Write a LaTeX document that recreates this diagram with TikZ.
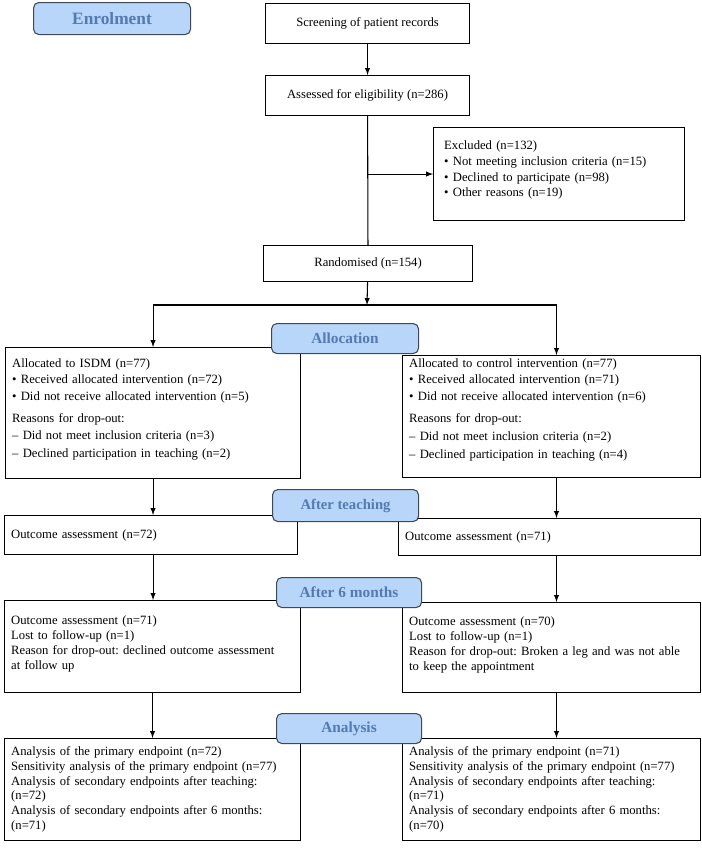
\documentclass[tikz,border=0pt]{standalone}
\usepackage{fontspec}
\setmainfont{Liberation Serif}
\usepackage{xcolor}
\usetikzlibrary{positioning}
\definecolor{stagefill}{RGB}{184,214,250}
\definecolor{stagetext}{RGB}{84,122,178}
\definecolor{stagedraw}{RGB}{64,72,84}
\frenchspacing

\tikzset{
    box/.style={draw, rectangle, anchor=north west, line width=0.8pt, inner xsep=5pt, inner ysep=2pt,
        align=left, font=\fontsize{9.5}{11.25}\selectfont},
    cbox/.style={box, align=center},
    stage/.style={draw=stagedraw, fill=stagefill, rounded corners=4pt, anchor=north west, line width=0.8pt,
        text=stagetext, font=\fontsize{11.5}{14}\selectfont\bfseries},
    link/.style={line width=0.8pt, ->, >=latex}
}

\begin{document}
\begin{tikzpicture}[x=0.75pt,y=-0.75pt]
    \useasboundingbox (0,0) rectangle (702,850);

    % Enrolment
    \node[cbox, minimum width=153pt, minimum height=30pt] (screen) at (265,3) {Screening of patient records};
    \node[cbox, minimum width=153pt, minimum height=30pt] (assess) at (265,75) {Assessed for eligibility (n=286)};
    \node[box, inner xsep=8pt, text width=172.25pt, minimum height=69.75pt,
        font=\fontsize{9.5}{11.8}\selectfont] (excl) at (433,127)
        {Excluded (n=132)\\
         \textbullet\ Not meeting inclusion criteria (n=15)\\
         \textbullet\ Declined to participate (n=98)\\
         \textbullet\ Other reasons (n=19)\\[-4pt] ~};
    \node[cbox, minimum width=156.75pt, minimum height=27pt] (rand) at (263,245) {Randomised (n=154)};

    \draw[link] (screen) -- (assess);
    \draw[line width=0.8pt] (assess) -- (rand);
    \draw[link] (excl.west -| assess.south) -- (excl.west);

    % Allocation
    \coordinate (split) at (367,305);
    \coordinate (rx) at (556.5,305);
    \node[box, text width=211.25pt, minimum height=98.25pt, font=\fontsize{9.5}{12.4}\selectfont] (allocL) at (5,347)
        {Allocated to ISDM (n=77)\\
         \textbullet\ Received allocated intervention (n=72)\\
         \textbullet\ Did not receive allocated intervention (n=5)\\[4pt]
         Reasons for drop-out:\\[1pt]
         -- Did not meet inclusion criteria (n=3)\\[1pt]
         -- Declined participation in teaching (n=2)\\[-5pt] ~};
    \node[box, text width=213.5pt, minimum height=91.5pt, font=\fontsize{9.5}{12.4}\selectfont] (allocR) at (402,355)
        {Allocated to control intervention (n=77)\\
         \textbullet\ Received allocated intervention (n=71)\\
         \textbullet\ Did not receive allocated intervention (n=6)\\[4pt]
         Reasons for drop-out:\\[1pt]
         -- Did not meet inclusion criteria (n=2)\\[1pt]
         -- Declined participation in teaching (n=4)\\ ~};

    \draw[link] (rand) -- (split);
    \draw[link] (split) -| (allocL.north);
    \draw[link] (split) -| (rx |- allocR.north);

    % After teaching
    \node[box, text width=209.75pt, minimum height=29.25pt] (outL) at (4,515) {Outcome assessment (n=72)};
    \node[box, text width=216.5pt, minimum height=27.75pt] (outR) at (398,518) {Outcome assessment (n=71)};

    \draw[link] (allocL.south) -- (allocL.south |- outL.north);
    \draw[link] (allocR.south -| rx) -- (outR.north -| rx);

    % After 6 months
    \node[box, text width=212pt, minimum height=69pt] (sixL) at (4,600)
        {Outcome assessment (n=71)\\
         Lost to follow-up (n=1)\\
         Reason for drop-out: declined outcome assessment\\
         at follow up\\[-6pt] ~};
    \node[box, text width=213.5pt, minimum height=67.5pt] (sixR) at (402,602)
        {Outcome assessment (n=70)\\
         Lost to follow-up (n=1)\\
         Reason for drop-out: Broken a leg and was not able\\
         to keep the appointment\\[-6pt] ~};

    \draw[link] (outL.south -| allocL.south) -- (allocL.south |- sixL.north);
    \draw[link] (outR.south -| rx) -- (sixR.north -| rx);

    % Analysis
    \node[box, text width=212pt, minimum height=76.5pt, font=\fontsize{9.5}{11}\selectfont] (anaL) at (4,738)
        {Analysis of the primary endpoint (n=72)\\
         Sensitivity analysis of the primary endpoint (n=77)\\
         Analysis of secondary endpoints after teaching:\\
         (n=72)\\
         Analysis of secondary endpoints after 6 months:\\
         (n=71)};
    \node[box, text width=213.5pt, minimum height=76.5pt, font=\fontsize{9.5}{11}\selectfont] (anaR) at (402,738)
        {Analysis of the primary endpoint (n=71)\\
         Sensitivity analysis of the primary endpoint (n=77)\\
         Analysis of secondary endpoints after teaching:\\
         (n=71)\\
         Analysis of secondary endpoints after 6 months:\\
         (n=70)};

    \draw[link] (sixL.south) -- (sixL.south |- anaL.north);
    \draw[link] (sixR.south -| rx) -- (anaR.north -| rx);

    % Stage labels on top
    \node[stage, minimum width=117.75pt, minimum height=24pt, font=\fontsize{13}{15}\selectfont\bfseries] (enrol) at (33,2) {Enrolment};
    \node[stage, minimum width=110.25pt, minimum height=22.5pt] (allocLab) at (271,323) {Allocation};
    \node[stage, minimum width=109.5pt, minimum height=24pt, font=\fontsize{11}{13}\selectfont\bfseries] (teachLab) at (272,489) {After teaching};
    \node[stage, minimum width=108.75pt, minimum height=22.5pt] (sixLab) at (276,577) {After 6 months};
    \node[stage, minimum width=108.75pt, minimum height=22.5pt] (anaLab) at (276,713) {Analysis};

\end{tikzpicture}
\end{document}
